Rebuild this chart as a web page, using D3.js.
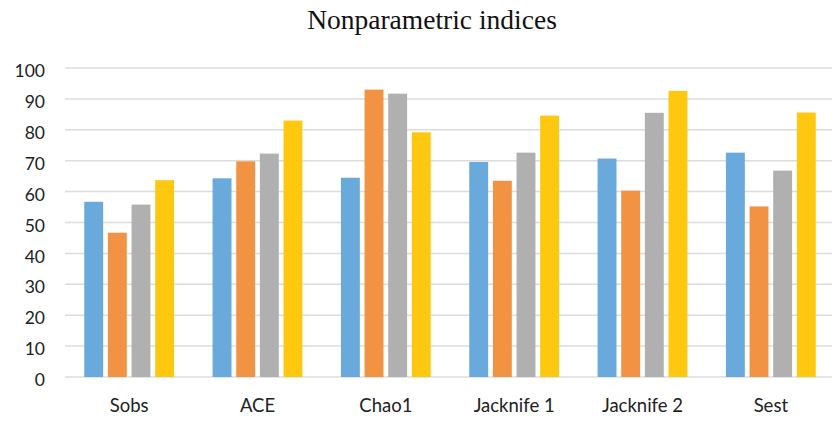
<!DOCTYPE html>
<html>
<head>
<meta charset="utf-8">
<script src="https://cdn.jsdelivr.net/npm/d3@7"></script>
<style>
body { margin: 0; background: #fff; }
</style>
</head>
<body>
<script>
var categories = ["Sobs", "ACE", "Chao1", "Jacknife 1", "Jacknife 2", "Sest"];
var seriesNames = ["s1", "s2", "s3", "s4"];
var s1 = [56.7, 64.3, 64.5, 69.6, 70.7, 72.6];
var s2 = [46.7, 69.8, 93, 63.5, 60.3, 55.2];
var s3 = [55.8, 72.3, 91.7, 72.6, 85.5, 66.8];
var s4 = [63.7, 83, 79.2, 84.6, 92.6, 85.6];
var yTicks = [0, 10, 20, 30, 40, 50, 60, 70, 80, 90, 100];
var colors = ["#6aa9dc", "#f29343", "#b0b0b0", "#fec811"];

var width = 832, height = 426;
var margin = {top: 68, right: -3, bottom: 49, left: 65};

var series = [s1, s2, s3, s4];

var svg = d3.select("body").append("svg")
	.attr("width", width)
	.attr("height", height);

var x0 = d3.scaleBand()
	.domain(categories)
	.range([margin.left, width - margin.right])
	.paddingInner(0.3)
	.paddingOuter(0.15);

var x1 = d3.scaleBand()
	.domain(seriesNames)
	.range([0, x0.bandwidth()])
	.paddingInner(0.2);

var y = d3.scaleLinear()
	.domain([0, 100])
	.range([height - margin.bottom, margin.top]);

// gridlines
svg.append("g")
	.selectAll("line")
	.data(yTicks)
	.enter().append("line")
	.attr("x1", margin.left)
	.attr("x2", width)
	.attr("y1", d => y(d))
	.attr("y2", d => y(d))
	.attr("stroke", "#dcdcdc")
	.attr("stroke-width", 1.5);

// bars
var groups = svg.append("g")
	.selectAll("g")
	.data(categories)
	.enter().append("g")
	.attr("transform", d => "translate(" + x0(d) + ",0)");

groups.selectAll("rect")
	.data((c, i) => series.map((s, j) => ({key: seriesNames[j], value: s[i], color: colors[j]})))
	.enter().append("rect")
	.attr("x", d => x1(d.key))
	.attr("y", d => y(d.value))
	.attr("width", x1.bandwidth())
	.attr("height", d => y(0) - y(d.value))
	.attr("fill", d => d.color);

// y axis labels
var yAxis = svg.append("g")
	.attr("transform", "translate(45,3)")
	.call(d3.axisLeft(y).tickValues(yTicks).tickSize(0).tickPadding(0));
yAxis.select(".domain").remove();
yAxis.selectAll("text")
	.attr("font-family", "Lato, 'Open Sans', sans-serif")
	.attr("font-size", 17.5)
	.attr("fill", "#222");

// x axis labels
var xAxis = svg.append("g")
	.attr("transform", "translate(0," + (height - margin.bottom) + ")")
	.call(d3.axisBottom(x0).tickSize(0).tickPadding(22));
xAxis.select(".domain").remove();
xAxis.selectAll("text")
	.attr("font-family", "Lato, 'Open Sans', sans-serif")
	.attr("font-size", 18.5)
	.attr("fill", "#222");

// title
svg.append("text")
	.attr("x", 432)
	.attr("y", 29)
	.attr("text-anchor", "middle")
	.attr("font-family", "'Liberation Serif', 'Times New Roman', serif")
	.attr("font-size", 27.5)
	.attr("fill", "#111")
	.text("Nonparametric indices");
</script>
</body>
</html>
